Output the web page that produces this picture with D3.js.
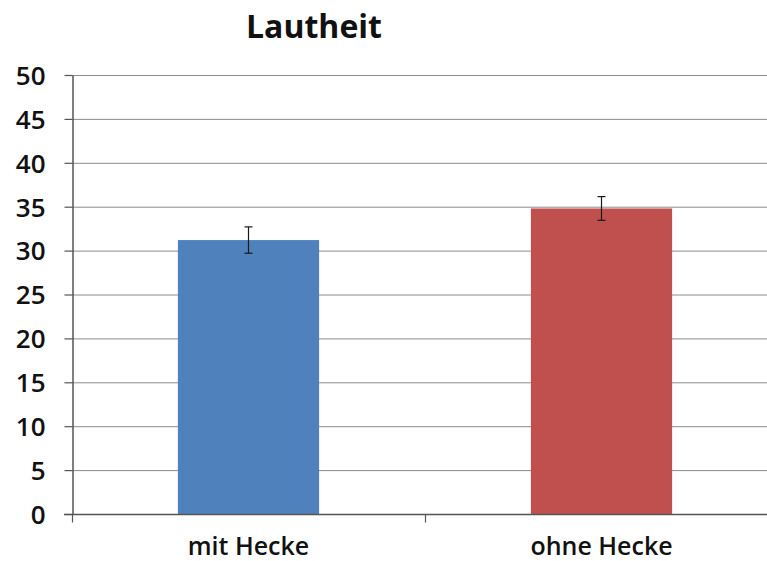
<!DOCTYPE html>
<html>
<head>
<meta charset="utf-8">
<script src="https://cdn.jsdelivr.net/npm/d3@7"></script>
<style>
  html, body { margin: 0; padding: 0; background: #fff; }
  svg { display: block; font-family: "Open Sans", "Noto Sans", sans-serif; }
</style>
</head>
<body>
<svg id="chart" width="767" height="561"></svg>
<script>
// Loudness with and without a hedge: mean values with error bars
const categories = ["mit Hecke", "ohne Hecke"];
const values = [31.2, 34.8];
const errors = [1.5, 1.35];
const colors = ["#4F81BD", "#C0504D"];
const yTicks = [0, 5, 10, 15, 20, 25, 30, 35, 40, 45, 50];
const title = "Lautheit";

const svg = d3.select("#chart");
const margin = { left: 72, top: 75, bottom: 47 };
const plotRight = 778;
const height = 561;

const x = d3.scaleBand()
  .domain(categories)
  .range([margin.left, plotRight])
  .paddingInner(0)
  .paddingOuter(0);

const y = d3.scaleLinear()
  .domain([0, 50])
  .range([height - margin.bottom, margin.top]);

// horizontal gridlines
svg.append("g")
  .selectAll("line")
  .data(yTicks.filter(d => d > 0))
  .join("line")
  .attr("x1", margin.left)
  .attr("x2", plotRight)
  .attr("y1", d => y(d) + 0.5)
  .attr("y2", d => y(d) + 0.5)
  .attr("stroke", "#8c8c8c")
  .attr("stroke-width", 1);

// bars
const barW = x.bandwidth() * 0.4;
svg.append("g")
  .selectAll("rect")
  .data(categories)
  .join("rect")
  .attr("x", d => x(d) + (x.bandwidth() - barW) / 2)
  .attr("y", (d, i) => y(values[i]))
  .attr("width", barW)
  .attr("height", (d, i) => y(0) - y(values[i]))
  .attr("fill", (d, i) => colors[i]);

// error bars
const eb = svg.append("g").attr("stroke", "#1a1a1a").attr("stroke-width", 1.2);
categories.forEach((c, i) => {
  const cx = x(c) + x.bandwidth() / 2;
  const top = y(values[i] + errors[i]);
  const bot = y(values[i] - errors[i]);
  eb.append("line").attr("x1", cx).attr("x2", cx).attr("y1", top).attr("y2", bot);
  eb.append("line").attr("x1", cx - 4).attr("x2", cx + 4).attr("y1", top).attr("y2", top);
  eb.append("line").attr("x1", cx - 4).attr("x2", cx + 4).attr("y1", bot).attr("y2", bot);
});

// y axis
const yAxis = svg.append("g")
  .attr("transform", `translate(${margin.left + 0.5},0)`)
  .call(d3.axisLeft(y).tickValues(yTicks).tickSize(8).tickPadding(19).tickSizeOuter(0));
yAxis.select(".domain").attr("stroke", "#555").attr("stroke-width", 1.5);
yAxis.selectAll(".tick line").attr("stroke", "#555").attr("stroke-width", 1.2);
yAxis.selectAll(".tick text")
  .attr("fill", "#111")
  .attr("dy", "0.36em")
  .style("font-size", "26px")
  .style("font-weight", "600")
  .style("font-family", "'Open Sans', sans-serif");

// x axis with tick marks at category boundaries
const xAxisG = svg.append("g").attr("transform", `translate(0,${y(0) + 0.5})`);
xAxisG.append("line")
  .attr("x1", margin.left - 8).attr("x2", plotRight)
  .attr("stroke", "#555").attr("stroke-width", 1.5);
xAxisG.selectAll(".bt")
  .data([...categories.map(c => x(c)), plotRight])
  .join("line")
  .attr("class", "bt")
  .attr("x1", d => d + 0.5).attr("x2", d => d + 0.5)
  .attr("y1", 0).attr("y2", 8)
  .attr("stroke", "#555").attr("stroke-width", 1.2);
xAxisG.selectAll("text")
  .data(categories)
  .join("text")
  .attr("x", d => x(d) + x.bandwidth() / 2)
  .attr("y", 40)
  .attr("text-anchor", "middle")
  .attr("fill", "#111")
  .style("font-size", "25px")
  .style("font-weight", "600")
  .text(d => d);

// title
svg.append("text")
  .attr("x", 314)
  .attr("y", 38)
  .attr("text-anchor", "middle")
  .attr("fill", "#111")
  .style("font-size", "32px")
  .style("font-weight", "700")
  .text(title);
</script>
</body>
</html>
